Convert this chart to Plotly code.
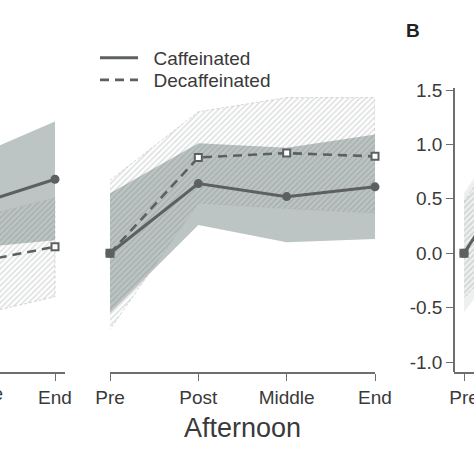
import plotly.graph_objects as go

# ---------------- data ----------------
stages = ["Pre", "Post", "Middle", "End"]
xpos = [0, 1, 2, 3]

# Panel A, left (morning) - only Middle..End visible
morn_caf = [0.0, 0.45, 0.42, 0.68]
morn_decaf = [0.0, 0.05, -0.10, 0.06]
morn_caf_lo = [-0.50, 0.05, 0.04, 0.12]
morn_caf_hi = [0.50, 0.90, 0.86, 1.21]
morn_dec_lo = [-0.60, -0.55, -0.59, -0.40]
morn_dec_hi = [0.60, 0.55, 0.30, 0.51]

# Panel A, middle (afternoon)
aft_caf = [0.0, 0.64, 0.52, 0.61]
aft_decaf = [0.0, 0.88, 0.92, 0.89]
aft_caf_lo = [-0.55, 0.26, 0.10, 0.13]
aft_caf_hi = [0.55, 1.01, 0.97, 1.09]
aft_dec_lo = [-0.70, 0.46, 0.41, 0.37]
aft_dec_hi = [0.67, 1.30, 1.43, 1.43]

# Panel B (only Pre visible)
b_caf = [0.0, 1.25, 1.10, 1.00]
b_decaf = [0.0, 1.20, 1.05, 0.95]
b_caf_lo = [-0.54, 0.50, 0.40, 0.35]
b_caf_hi = [0.55, 1.80, 1.70, 1.60]
b_dec_lo = [-0.41, 0.45, 0.35, 0.30]
b_dec_hi = [0.47, 1.70, 1.60, 1.50]

yticks = [-1.0, -0.5, 0.0, 0.5, 1.0, 1.5]
ytick_text = ["-1.0", "-0.5", "0.0", "0.5", "1.0", "1.5"]
series_names = ["Caffeinated", "Decaffeinated"]

# ---------------- style ----------------
W = H = 474
FONT = "Liberation Sans, Arial, Helvetica, sans-serif"
TXT = "#3a3a3a"
AX = "#6e6e6e"
LINE = "#5c6060"
GRAYFILL = "#bdc5c4"
HATCH_FG = "rgba(80,86,86,0.38)"
NB = "\u00a0\u00a0"


def px_x(p):
    return p / W


def px_y(p):
    return 1 - p / H


fig = go.Figure()

panels = [
    ("x", morn_caf, morn_decaf, morn_caf_lo, morn_caf_hi, morn_dec_lo, morn_dec_hi, GRAYFILL, True),
    ("x2", aft_caf, aft_decaf, aft_caf_lo, aft_caf_hi, aft_dec_lo, aft_dec_hi, GRAYFILL, False),
    ("x3", b_caf, b_decaf, b_caf_lo, b_caf_hi, b_dec_lo, b_dec_hi, "#eef0f0", True),
]

# caffeinated bands (solid grey)
for xa, caf, dec, clo, chi, dlo, dhi, fc, clip in panels:
    fig.add_trace(go.Scatter(
        x=xpos + xpos[::-1], y=chi + clo[::-1], xaxis=xa, yaxis="y",
        mode="lines", fill="toself", fillcolor=fc,
        line=dict(width=0), hoverinfo="skip", showlegend=False))

# decaffeinated bands (hatched)
for xa, caf, dec, clo, chi, dlo, dhi, fc, clip in panels:
    fig.add_trace(go.Scatter(
        x=xpos + xpos[::-1], y=dhi + dlo[::-1], xaxis=xa, yaxis="y",
        mode="lines", fill="toself", fillcolor="rgba(255,255,255,0)",
        fillpattern=dict(shape="/", fgcolor=HATCH_FG, bgcolor="rgba(255,255,255,0)",
                         size=4, solidity=0.4, fillmode="overlay"),
        line=dict(width=0.8, color="rgba(170,170,170,0.6)", dash="3px,2px"),
        hoverinfo="skip", showlegend=False))

# lines
for xa, caf, dec, clo, chi, dlo, dhi, fc, clip in panels:
    fig.add_trace(go.Scatter(
        x=xpos, y=dec, xaxis=xa, yaxis="y", mode="lines+markers",
        line=dict(color=LINE, width=2.6, dash="9px,6px"),
        marker=dict(symbol="square", size=7, color="white",
                    line=dict(color=LINE, width=2)),
        cliponaxis=clip, showlegend=False, hoverinfo="skip"))
    fig.add_trace(go.Scatter(
        x=xpos, y=caf, xaxis=xa, yaxis="y", mode="lines+markers",
        line=dict(color=LINE, width=3),
        marker=dict(symbol="circle", size=9, color=LINE),
        cliponaxis=clip, showlegend=False, hoverinfo="skip"))

# legend-only entries (one legend per row for exact spacing)
fig.add_trace(go.Scatter(x=[None], y=[None], xaxis="x2", yaxis="y", mode="lines",
                         name=NB + series_names[0], legend="legend",
                         line=dict(color=LINE, width=3)))
fig.add_trace(go.Scatter(x=[None], y=[None], xaxis="x2", yaxis="y", mode="lines",
                         name=NB + series_names[1], legend="legend2",
                         line=dict(color=LINE, width=2.6, dash="9px,6px")))

UNIT = 88.33  # px per category step
yr = [(253.2 - 372) / 108.8, (253.2 - 88) / 108.8]

xcommon = dict(
    tickmode="array", tickvals=xpos, ticktext=stages,
    showgrid=False, zeroline=False, showline=True, linecolor=AX, linewidth=1.5,
    ticks="outside", ticklen=7, tickwidth=1.3, tickcolor=AX, automargin=False,
    ticklabeloverflow="allow",
    tickfont=dict(family=FONT, size=19, color=TXT), anchor="y",
)

legend_common = dict(xanchor="left", yanchor="top", bgcolor="rgba(0,0,0,0)",
                     font=dict(family=FONT, size=19, color=TXT),
                     itemwidth=38, tracegroupgap=0)

fig.update_layout(
    template="none",
    width=W, height=H, margin=dict(l=0, r=0, t=0, b=0, pad=0, autoexpand=False),
    paper_bgcolor="white", plot_bgcolor="rgba(0,0,0,0)",
    font=dict(family=FONT, color=TXT),
    xaxis=dict(domain=[0, px_x(65)], range=[3 - 55 / UNIT, 3 + 10 / UNIT], **xcommon),
    xaxis2=dict(domain=[px_x(110), px_x(375)], range=[0, 3], **xcommon),
    xaxis3=dict(domain=[px_x(454), 1], range=[-10 / UNIT, 10 / UNIT], **xcommon),
    yaxis=dict(domain=[px_y(372), px_y(88)], range=yr, anchor="free", position=px_x(454),
               tickmode="array", tickvals=yticks, ticktext=ytick_text, automargin=False,
               showgrid=False, zeroline=False, showline=True, linecolor=AX, linewidth=1.5,
               ticks="outside", ticklen=7, tickwidth=1.3, tickcolor=AX,
               tickfont=dict(family=FONT, size=19, color=TXT)),
    showlegend=True,
    legend=dict(x=px_x(95), y=px_y(39), **legend_common),
    legend2=dict(x=px_x(95), y=px_y(61), **legend_common),
    annotations=[
        dict(text="Afternoon", xref="paper", yref="paper", x=px_x(242), y=px_y(428),
             xanchor="center", yanchor="middle", showarrow=False,
             font=dict(family=FONT, size=27, color=TXT)),
        dict(text="Middle", xref="paper", yref="paper", x=px_x(-25), y=px_y(393),
             xanchor="center", yanchor="middle", showarrow=False,
             font=dict(family=FONT, size=19, color=TXT)),
        dict(text="<b>B</b>", xref="paper", yref="paper", x=px_x(413), y=px_y(30),
             xanchor="center", yanchor="middle", showarrow=False,
             font=dict(family=FONT, size=19, color="#222222")),
    ],
)

fig.write_html(
    "out.html", config={"displayModeBar": False},
    post_script=("document.documentElement.style.margin='0';"
                 "document.body.style.margin='0';document.body.style.padding='0';"
                 "document.body.style.overflow='hidden';"
                 "var d=document.getElementById('{plot_id}');"
                 "d.style.position='fixed';d.style.left='0px';d.style.top='0px';"))
